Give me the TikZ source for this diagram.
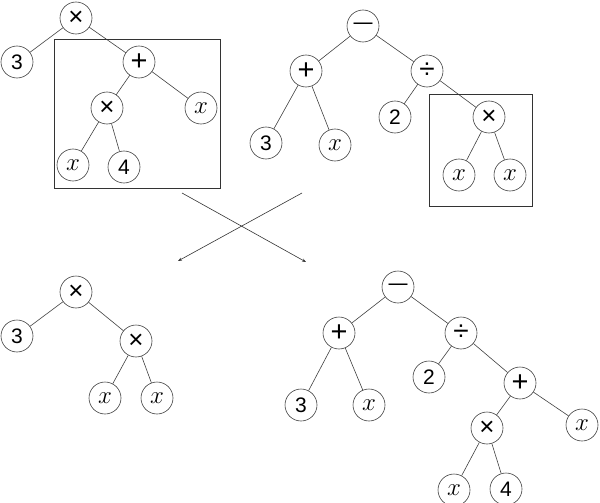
\documentclass[tikz,border=0pt]{standalone}
\usepackage{fontspec}
\setmainfont{Liberation Sans}
\newfontfamily\opfont{DejaVu Sans}
\usetikzlibrary{arrows.meta}
\newcommand{\vx}{{\fontsize{24.88}{28}\selectfont$x$}}
\newcommand{\opT}{{\fontsize{26}{26}\selectfont ×}}
\newcommand{\opP}{{\fontsize{29}{29}\selectfont +}}
\newcommand{\opD}{{\fontsize{28}{28}\selectfont ÷}}
\newcommand{\opM}{{\opfont\fontsize{21}{24}\selectfont —}}
\begin{document}
\begin{tikzpicture}[x=1pt,y={(0,-1pt)},
  nd/.style={circle,draw=black!75,line width=0.6pt,minimum size=32pt,inner sep=0pt,font=\fontsize{21}{22}\selectfont},
  ed/.style={draw=black!75,line width=0.6pt},
  bx/.style={draw=black!80,line width=0.9pt},
  ar/.style={draw=black!80,line width=0.6pt,-{Stealth[length=4pt,width=3pt]}}]
\useasboundingbox (0,0) rectangle (600,503);
% top-left tree
\node[nd] (a1) at (76,18) {\opT};
\node[nd] (a2) at (17,62) {3};
\node[nd] (a3) at (139,62) {\opP};
\node[nd] (a4) at (107,108) {\opT};
\node[nd] (a5) at (201,108) {\vx};
\node[nd] (a6) at (73,165) {\vx};
\node[nd] (a7) at (124,167) {4};
\draw[ed] (a1)--(a2) (a1)--(a3) (a3)--(a4) (a3)--(a5) (a4)--(a6) (a4)--(a7);
\draw[bx] (54,39) rectangle (220,188);
% top-right tree
\node[nd] (b1) at (363,26) {\opM};
\node[nd] (b2) at (306,71) {\opP};
\node[nd] (b3) at (427,71) {\opD};
\node[nd] (b4) at (266,143) {3};
\node[nd] (b5) at (335,145) {\vx};
\node[nd] (b6) at (395,117) {2};
\node[nd] (b7) at (489,117) {\opT};
\node[nd] (b8) at (459,175) {\vx};
\node[nd] (b9) at (510,175) {\vx};
\draw[ed] (b1)--(b2) (b1)--(b3) (b2)--(b4) (b2)--(b5) (b3)--(b6) (b3)--(b7) (b7)--(b8) (b7)--(b9);
\draw[bx] (429,94) rectangle (532,206);
% crossing arrows
\coordinate (p1) at (182,193);
\coordinate (q1) at (306,262);
\coordinate (p2) at (302,193);
\coordinate (q2) at (178,261);
\draw[ar] (p1)--(q1);
\draw[ar] (p2)--(q2);
% bottom-left tree
\node[nd] (c1) at (76,292) {\opT};
\node[nd] (c2) at (17,336) {3};
\node[nd] (c3) at (136,341) {\opT};
\node[nd] (c4) at (105,398) {\vx};
\node[nd] (c5) at (157,398) {\vx};
\draw[ed] (c1)--(c2) (c1)--(c3) (c3)--(c4) (c3)--(c5);
% bottom-right tree
\node[nd] (d1) at (398,287) {\opM};
\node[nd] (d2) at (339,333) {\opP};
\node[nd] (d3) at (461,333) {\opD};
\node[nd] (d4) at (301,405) {3};
\node[nd] (d5) at (369,405) {\vx};
\node[nd] (d6) at (429,377) {2};
\node[nd] (d7) at (520,383) {\opP};
\node[nd] (d8) at (487,428) {\opT};
\node[nd] (d9) at (582,425) {\vx};
\node[nd] (d10) at (454,490) {\vx};
\node[nd] (d11) at (506,489) {4};
\draw[ed] (d1)--(d2) (d1)--(d3) (d2)--(d4) (d2)--(d5) (d3)--(d6) (d3)--(d7) (d7)--(d8) (d7)--(d9) (d8)--(d10) (d8)--(d11);
\end{tikzpicture}
\end{document}
